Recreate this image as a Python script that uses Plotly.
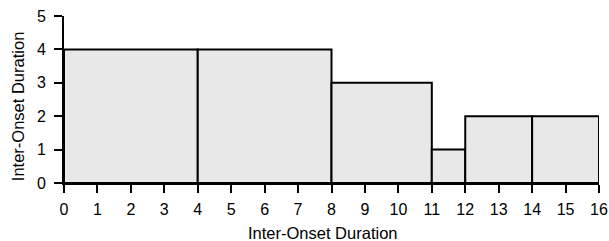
import plotly.graph_objects as go

starts = [0, 4, 8, 11, 12, 14]
widths = [4, 4, 3, 1, 2, 2]
heights = [4, 4, 3, 1, 2, 2]
x_ticks = list(range(0, 17))
y_ticks = [0, 1, 2, 3, 4, 5]
x_title = "Inter-Onset Duration"
y_title = "Inter-Onset Duration"

centers = [s + w / 2 for s, w in zip(starts, widths)]

fig = go.Figure(go.Bar(
    x=centers, y=heights, width=widths,
    marker=dict(color="#e8e8e8", line=dict(color="black", width=2)),
    hoverinfo="skip",
))

tick_font = dict(family="Liberation Sans, Arial, sans-serif", size=16, color="black")
title_font = dict(family="Liberation Sans, Arial, sans-serif", size=16.5, color="black")
fig.update_layout(
    width=609, height=241,
    margin=dict(l=64, r=10, t=16, b=58),
    plot_bgcolor="white", paper_bgcolor="white",
    font=tick_font, showlegend=False, bargap=0,
    annotations=[
        dict(text=x_title, xref="paper", yref="paper", x=0.483, y=-0.3,
             xanchor="center", yanchor="middle", showarrow=False, font=title_font),
        dict(text=y_title, xref="paper", yref="paper", x=-0.086, y=0.46,
             xanchor="center", yanchor="middle", showarrow=False, font=title_font,
             textangle=-90),
    ],
)
fig.update_xaxes(
    range=[0, 16], tickvals=x_ticks, ticktext=[str(v) for v in x_ticks],
    showline=True, linecolor="black", linewidth=2, ticks="outside",
    ticklen=8, tickwidth=2, tickcolor="black", showgrid=False, zeroline=False,
    automargin=False, tickfont=tick_font, ticklabelstandoff=3,
)
fig.update_yaxes(
    range=[0, 5], tickvals=y_ticks, ticktext=[str(v) for v in y_ticks],
    showline=True, linecolor="black", linewidth=2, ticks="outside",
    ticklen=8, tickwidth=2, tickcolor="black", showgrid=False, zeroline=False,
    automargin=False, tickfont=tick_font, ticklabelstandoff=5,
)
fig.write_html(
    "out.html",
    config={"displayModeBar": False, "staticPlot": True},
    post_script="document.body.style.margin='0';document.body.style.overflow='hidden';",
)
